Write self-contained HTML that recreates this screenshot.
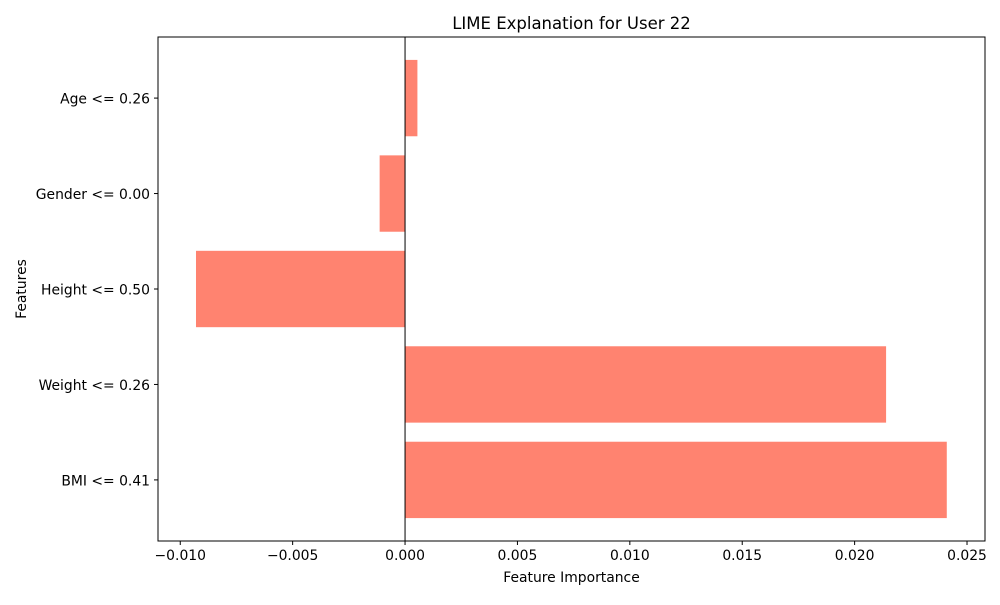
<!DOCTYPE html>
<html><head><meta charset="utf-8"><style>
body{margin:0;background:#fff;font-family:"Liberation Sans","DejaVu Sans",sans-serif;}
</style></head><body>
<svg id="chart" width="1000" height="600" xmlns="http://www.w3.org/2000/svg" font-family="'DejaVu Sans','Liberation Sans',sans-serif">
<text x="571.5" y="29" text-anchor="middle" font-size="16.5">LIME Explanation for User 22</text>
<text x="571.5" y="582" text-anchor="middle" font-size="13.9">Feature Importance</text>
<text transform="translate(26,289) rotate(-90)" text-anchor="middle" font-size="13.9">Features</text>
<g id="bars"></g><g id="axes"></g>
</svg>
<script>
const categories=["BMI <= 0.41","Weight <= 0.26","Height <= 0.50","Gender <= 0.00","Age <= 0.26"];
const values=[0.0241,0.0214,-0.0093,-0.00113,0.00055];
const xTicks=[-0.010,-0.005,0.000,0.005,0.010,0.015,0.020,0.025];
const xTickLabels=["\u22120.010","\u22120.005","0.000","0.005","0.010","0.015","0.020","0.025"];
const L=158,R=985,T=37,B=541;
const xMin=-0.01099,xMax=0.0258,yMin=-0.64,yMax=4.64;
const sx=v=>L+(v-xMin)/(xMax-xMin)*(R-L);
const sy=v=>B-(v-yMin)/(yMax-yMin)*(B-T);
const ns="http://www.w3.org/2000/svg";
const bars=document.getElementById('bars'),axes=document.getElementById('axes');
function mk(tag,attrs,parent){const e=document.createElementNS(ns,tag);for(const k in attrs)e.setAttribute(k,attrs[k]);parent.appendChild(e);return e;}
categories.forEach((c,i)=>{
  const v=values[i];const x0=sx(Math.min(0,v)),x1=sx(Math.max(0,v));
  const r=mk('rect',{x:x0,y:sy(i+0.4),width:x1-x0,height:sy(i-0.4)-sy(i+0.4),fill:'#ff8370'},bars);
  
  
  const t=mk('line',{x1:L-4,x2:L,y1:sy(i),y2:sy(i),stroke:'#000'},axes);
  
  
  const lb=mk('text',{x:L-8,y:sy(i)+5.5,'text-anchor':'end','font-size':'13.9'},axes);
  lb.textContent=c;
  
  
});
const zl=mk('line',{x1:sx(0),x2:sx(0),y1:T,y2:B,stroke:'#000','stroke-width':1},axes);


xTicks.forEach((v,i)=>{
  const t=mk('line',{x1:sx(v),x2:sx(v),y1:B,y2:B+4,stroke:'#000'},axes);
  
  
  const lb=mk('text',{x:sx(v),y:B+19,'text-anchor':'middle','font-size':'13.9'},axes);
  lb.textContent=xTickLabels[i];
  
  
});
const fr=mk('rect',{x:L,y:T,width:R-L,height:B-T,fill:'none',stroke:'#000','stroke-width':1},axes);


</script>
</body></html>
